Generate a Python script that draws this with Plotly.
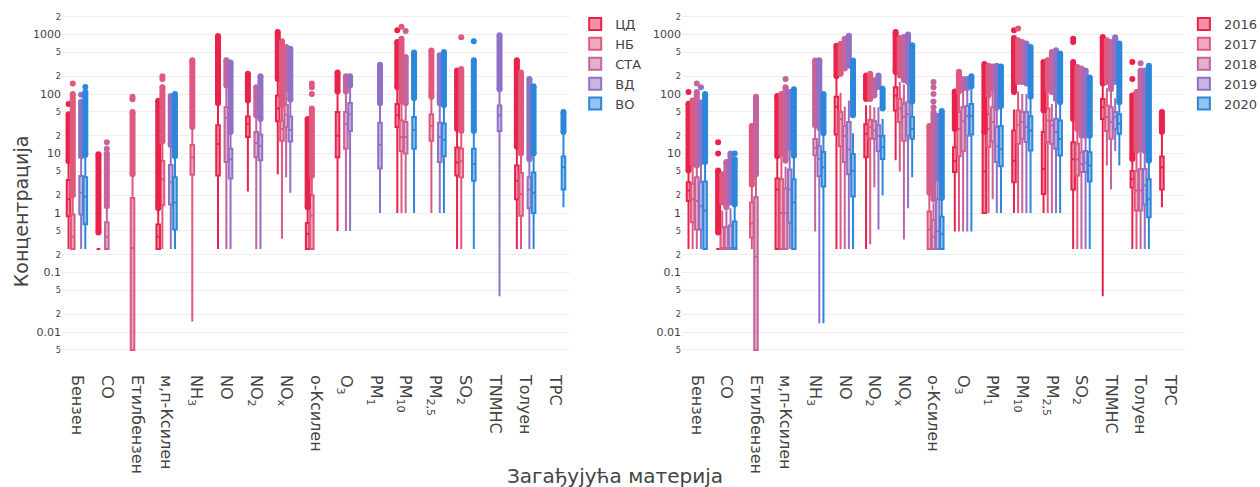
import plotly.graph_objects as go

# Pollutants on the x axis (shared by both panels)
CATEGORIES = ["Бензен", "CO", "Етилбензен", "м,п-Ксилен", "NH<sub>3</sub>", "NO",
              "NO<sub>2</sub>", "NO<sub>x</sub>", "о-Ксилен", "O<sub>3</sub>",
              "PM<sub>1</sub>", "PM<sub>10</sub>", "PM<sub>2,5</sub>", "SO<sub>2</sub>",
              "TNMHC", "Толуен", "TPC"]

# Row layout: (category index, lower whisker, q1, median, q3, upper whisker,
#              outlier band low, outlier band high, isolated outliers)

# ---- Left panel: station type ----
CD = [
    (0, 0.25, 0.88, 1.7, 3.6, 7.4, 7.4, 46, [68]),
    (1, 0.25, 0.25, 0.25, 0.25, 0.25, 0.47, 9.7, []),
    (3, 0.25, 0.25, 0.4, 0.64, 1.2, 1.2, 77, []),
    (5, 0.25, 4.3, 14.5, 30, 70, 70, 950, []),
    (6, 2.3, 19, 31, 42, 78, 78, 220, []),
    (7, 4.5, 35, 57, 95, 180, 180, 1100, []),
    (8, 0.25, 0.25, 0.45, 0.68, 1.25, 1.25, 38, []),
    (9, 0.5, 8.7, 20, 50, 110, 110, 230, []),
    (11, 1.0, 28, 44, 68, 130, 130, 750, [1180]),
    (13, 0.25, 4.3, 7.1, 12.7, 26, 26, 250, []),
    (15, 0.25, 1.7, 3.5, 6.3, 13, 13, 370, []),
]
NB = [
    (0, 0.25, 0.25, 0.4, 0.95, 2.0, 2.0, 100, [150]),
    (2, 0.005, 0.005, 0.26, 1.8, 4.5, 4.5, 50, [82, 90]),
    (3, 0.25, 1.35, 3.7, 7.5, 16, 16, 130, [180, 200]),
    (4, 0.015, 4.4, 8.6, 14, 28, 28, 345, [370]),
    (7, 0.37, 16.5, 26, 36, 65, 65, 750, [770]),
    (8, 0.25, 0.25, 0.9, 2.0, 4.2, 4.2, 57, [100, 130, 150]),
    (11, 1.0, 11, 19, 36, 75, 75, 850, [1350]),
    (12, 1.0, 16.5, 29, 46, 90, 90, 540, []),
    (13, 0.25, 4.0, 7.4, 12, 24, 24, 265, [900]),
    (15, 0.25, 0.9, 2.1, 4.7, 10, 10, 230, []),
]
STA = [
    (1, 0.25, 0.25, 0.4, 0.7, 1.3, 1.3, 10, [12, 15.5]),
    (5, 0.25, 7.2, 40, 60, 140, 140, 370, []),
    (6, 0.25, 8.7, 15, 23, 44, 44, 130, []),
    (7, 4.0, 28, 45, 66, 120, 120, 620, []),
    (9, 0.5, 12, 31, 50, 110, 110, 200, []),
    (11, 1.0, 10, 19, 34, 70, 70, 420, [1150]),
]
VD = [
    (0, 0.25, 0.95, 2.2, 4.2, 9, 9, 74, [97]),
    (3, 0.25, 1.4, 3.3, 6.4, 14, 14, 90, [93]),
    (5, 0.25, 3.8, 8, 12, 23, 23, 340, []),
    (6, 0.25, 7.7, 13.5, 21, 38, 38, 200, []),
    (7, 2.2, 16, 25, 42, 80, 80, 580, []),
    (9, 0.5, 24, 46, 71, 140, 140, 200, []),
    (10, 1.0, 5.6, 14, 33, 70, 70, 310, []),
    (12, 1.0, 7.2, 19, 33, 70, 70, 450, []),
    (14, 0.04, 24, 44, 64, 120, 120, 970, []),
    (15, 0.25, 1.2, 2.5, 4.0, 8, 8, 180, []),
]
VO = [
    (0, 0.25, 0.65, 1.9, 4.0, 9.5, 9.5, 108, [131]),
    (3, 0.25, 0.53, 1.5, 4.0, 9, 9, 100, []),
    (11, 1.0, 12, 25, 41, 85, 85, 500, []),
    (12, 1.0, 9, 17, 32, 65, 65, 510, []),
    (13, 0.25, 3.5, 6.7, 12, 24, 24, 370, [770]),
    (15, 0.25, 1.0, 2.2, 4.8, 10, 10, 135, []),
    (16, 1.25, 2.5, 5.9, 8.9, 23, 23, 50, []),
]

# ---- Right panel: year ----
Y2016 = [
    (0, 0.25, 1.6, 2.4, 3.3, 5.2, 5.2, 69, [108]),
    (1, 0.25, 0.25, 0.25, 0.25, 0.25, 0.47, 5.2, [10, 15.5]),
    (3, 0.25, 0.25, 2.5, 3.8, 9, 9, 93, []),
    (5, 0.25, 21, 61, 90, 200, 200, 650, []),
    (6, 0.25, 8.7, 21.5, 31, 65, 83, 206, []),
    (7, 7.7, 53, 95, 130, 235, 235, 1100, []),
    (9, 0.49, 4.9, 7.5, 12.8, 26, 26, 110, []),
    (10, 1.0, 1.0, 5, 23, 23, 23, 320, []),
    (11, 1.0, 3.3, 7.6, 24.4, 55, 108, 880, [1180]),
    (12, 1.0, 2.1, 5.5, 23, 53, 53, 345, []),
    (13, 0.25, 2.5, 8, 15.5, 35, 38, 345, [750, 850]),
    (14, 0.04, 38, 60, 83, 150, 150, 910, []),
    (15, 0.25, 2.7, 3.7, 5.1, 8.1, 8.1, 95, [180, 345]),
    (16, 1.25, 2.5, 5.9, 8.9, 23, 23, 50, []),
]
Y2017 = [
    (0, 0.25, 0.7, 1.7, 3.1, 6.7, 6.7, 78, []),
    (1, 0.25, 0.25, 0.25, 0.58, 1.1, 1.5, 4.5, []),
    (2, 0.25, 0.39, 0.67, 1.5, 3.0, 3.0, 29, []),
    (3, 0.25, 0.25, 1.0, 3.7, 9.9, 9.9, 100, []),
    (5, 0.25, 13.3, 38, 50, 105, 220, 700, []),
    (6, 0.3, 18, 28, 37, 65, 83, 220, []),
    (7, 5, 34, 57, 83, 160, 205, 880, []),
    (8, 0.25, 0.25, 0.53, 1.06, 2.2, 2.2, 29, []),
    (9, 0.49, 9, 26, 50, 110, 110, 237, []),
    (10, 1.0, 13, 26, 46, 96, 96, 300, []),
    (11, 1.0, 14.6, 30, 53, 110, 160, 800, [1260]),
    (12, 1.0, 15.6, 36, 57, 119, 119, 370, []),
    (13, 0.25, 4.3, 8, 14.6, 26, 26, 285, []),
    (14, 6.3, 24, 41, 64, 125, 160, 800, []),
    (15, 0.25, 1.1, 2.4, 5.1, 11, 11, 108, []),
]
Y2018 = [
    (0, 0.25, 0.53, 1.6, 4.0, 6.3, 6.3, 108, [150]),
    (1, 0.25, 0.25, 0.25, 0.58, 1.1, 1.25, 7.2, []),
    (2, 0.005, 0.005, 0.185, 1.84, 4.5, 4.5, 85, [75, 90]),
    (3, 0.25, 0.25, 1.0, 2.6, 6, 7.6, 130, [180]),
    (4, 0.49, 9.4, 12.5, 17.5, 30, 30, 365, []),
    (5, 0.25, 7.2, 19.7, 29, 62, 270, 850, []),
    (6, 2.7, 17.7, 24.5, 35, 60, 95, 170, []),
    (7, 0.36, 16.5, 41, 68, 145, 170, 910, []),
    (8, 0.25, 0.25, 0.4, 0.76, 1.5, 1.7, 50, [60, 75, 100, 130, 160]),
    (9, 0.49, 11, 35, 60, 125, 125, 180, []),
    (10, 1.7, 16, 34, 60, 126, 126, 290, []),
    (11, 1.0, 17.7, 34, 50, 100, 160, 750, []),
    (12, 1.0, 14.6, 30, 36, 68, 108, 510, []),
    (13, 0.25, 4.9, 6.7, 10.5, 18, 20, 270, []),
    (14, 2.5, 17.7, 34, 60, 120, 120, 750, []),
    (15, 0.25, 1.1, 2.4, 5.5, 12, 12, 250, [330]),
]
Y2019 = [
    (0, 0.25, 0.53, 1.3, 3.3, 7.2, 7.2, 72, [130]),
    (1, 0.25, 0.25, 0.25, 0.62, 1.2, 1.5, 10, []),
    (3, 0.25, 0.69, 2.5, 5.4, 12.5, 12.5, 108, []),
    (4, 0.014, 4.15, 8.1, 13.3, 27, 27, 370, []),
    (5, 0.25, 4.5, 11.7, 34, 78, 300, 960, []),
    (6, 0.53, 11, 20, 30, 60, 131, 206, []),
    (7, 1.2, 20, 46, 73, 150, 160, 1000, []),
    (8, 0.25, 0.25, 0.5, 1.7, 3.8, 3.8, 43, []),
    (9, 0.49, 20, 43, 63, 127, 127, 180, []),
    (10, 1.0, 7.2, 13.3, 28, 59, 59, 300, []),
    (11, 1.0, 15.6, 28, 50, 100, 150, 705, []),
    (12, 1.0, 12, 23, 38.5, 78, 83, 545, []),
    (13, 0.25, 4.9, 7.1, 11, 20, 20, 250, []),
    (14, 11, 26, 41, 50, 85, 160, 900, []),
    (15, 0.25, 1.4, 2.9, 5.5, 11, 11, 250, []),
]
Y2020 = [
    (0, 0.25, 0.25, 1.1, 3.4, 7.2, 7.2, 100, []),
    (1, 0.25, 0.25, 0.25, 0.72, 1.4, 1.4, 8, [10]),
    (3, 0.25, 0.25, 1.5, 3.7, 9.2, 9.2, 120, []),
    (4, 0.014, 2.8, 5.9, 10.6, 22, 22, 95, [100]),
    (5, 0.25, 1.9, 5.1, 9.8, 22, 44, 365, []),
    (6, 2.0, 8.1, 12.8, 20, 38, 57, 123, []),
    (7, 4.0, 17.7, 26, 41, 75, 75, 660, []),
    (8, 0.25, 0.25, 0.45, 0.87, 1.8, 1.8, 52, []),
    (9, 0.49, 21, 43, 68, 135, 135, 200, []),
    (10, 1.0, 6.1, 11.8, 29, 63, 63, 290, []),
    (11, 1.0, 11.3, 24.5, 42.5, 90, 90, 620, []),
    (12, 1.0, 9.3, 17.6, 36, 73, 73, 480, []),
    (13, 0.25, 3.4, 6.3, 10.5, 20, 20, 190, []),
    (14, 6.3, 21.6, 32, 46, 66, 73, 705, []),
    (15, 0.25, 0.85, 1.7, 3.7, 7.6, 7.6, 300, []),
]

STATION_NAMES = ["ЦД", "НБ", "СТА", "ВД", "ВО"]
STATION_DATA = [CD, NB, STA, VD, VO]
YEAR_NAMES = ["2016", "2017", "2018", "2019", "2020"]
YEAR_DATA = [Y2016, Y2017, Y2018, Y2019, Y2020]
COLORS = ["#e8224b", "#e0587d", "#c5649c", "#9270c5", "#2b87dc"]

FONT = "DejaVu Sans"
SLOT = 0.14      # offset between grouped boxes, in category units
BOX_W = 0.12

fig = go.Figure()


def add_group(names, datasets, xaxis, yaxis, legend):
    n = len(names)
    for k, (name, rows, color) in enumerate(zip(names, datasets, COLORS)):
        off = (k - (n - 1) / 2) * SLOT
        xs = [r[0] + off for r in rows]
        fig.add_trace(go.Box(
            name=name, x=xs,
            lowerfence=[r[1] for r in rows], q1=[r[2] for r in rows],
            median=[r[3] for r in rows], q3=[r[4] for r in rows],
            upperfence=[r[5] for r in rows],
            width=BOX_W, whiskerwidth=0,
            line=dict(color=color, width=2),
            xaxis=xaxis, yaxis=yaxis, legend=legend, legendgroup=name,
            hoverinfo="skip",
        ))
        # dense outlier bands
        bx, by = [], []
        for r, x in zip(rows, xs):
            if r[7] > r[6]:
                bx += [x, x, None]
                by += [r[6], r[7], None]
        fig.add_trace(go.Scatter(
            x=bx, y=by, mode="lines", line=dict(color=color, width=6),
            xaxis=xaxis, yaxis=yaxis, showlegend=False, legendgroup=name,
            hoverinfo="skip",
        ))
        # band ends and isolated outliers
        px, py = [], []
        for r, x in zip(rows, xs):
            if r[7] > r[6]:
                px += [x, x]
                py += [r[6], r[7]]
            for v in r[8]:
                px.append(x)
                py.append(v)
        fig.add_trace(go.Scatter(
            x=px, y=py, mode="markers", marker=dict(color=color, size=6),
            xaxis=xaxis, yaxis=yaxis, showlegend=False, legendgroup=name,
            hoverinfo="skip",
        ))


add_group(STATION_NAMES, STATION_DATA, "x", "y", "legend")
add_group(YEAR_NAMES, YEAR_DATA, "x2", "y2", "legend2")

xaxis_common = dict(
    range=[-0.5, len(CATEGORIES) - 0.5],
    tickmode="array", tickvals=list(range(len(CATEGORIES))), ticktext=CATEGORIES,
    tickangle=90, tickfont=dict(family=FONT, size=16, color="#444"),
    ticklabelstandoff=11,
    showgrid=False, zeroline=False, showline=False, ticks="",
)
yaxis_common = dict(
    type="log", range=[-2.52, 3.43], dtick="D2",
    gridcolor="#eeeeee", gridwidth=1, zeroline=False, showline=False,
    tickfont=dict(family=FONT, size=11, color="#444"),
)

legend_common = dict(
    y=1.0, xanchor="left", yanchor="top", bgcolor="rgba(0,0,0,0)",
    font=dict(family=FONT, size=13, color="#444"), tracegroupgap=0,
)

fig.update_layout(
    width=1260, height=487,
    margin=dict(l=62, r=75, t=9, b=124, autoexpand=False),
    paper_bgcolor="white", plot_bgcolor="white",
    font=dict(family=FONT, color="#444"),
    boxmode="overlay",
    xaxis=dict(domain=[0, 0.4524], anchor="y", **xaxis_common),
    xaxis2=dict(domain=[0.5521, 1.0], anchor="y2", **xaxis_common),
    yaxis=dict(anchor="x", **yaxis_common),
    yaxis2=dict(anchor="x2", **yaxis_common),
    legend=dict(x=0.457, **legend_common),
    legend2=dict(x=0.999, **legend_common),
    annotations=[
        dict(text="Концентрација", xref="paper", yref="paper",
             x=-0.037, y=0.43, xanchor="center", yanchor="middle",
             textangle=-90, showarrow=False,
             font=dict(family=FONT, size=19, color="#444")),
        dict(text="Загађујућа материја", xref="paper", yref="paper",
             x=0.492, y=-0.318, xanchor="center", yanchor="middle",
             showarrow=False, font=dict(family=FONT, size=20, color="#444")),
    ],
)

fig.write_html("out.html")
